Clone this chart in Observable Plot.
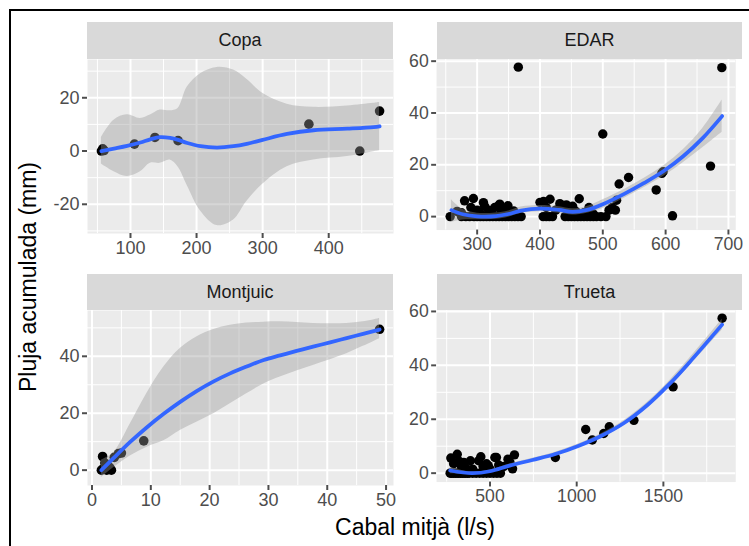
<!DOCTYPE html>
<html><head><meta charset="utf-8">
<script src="https://cdn.jsdelivr.net/npm/d3@7"></script>
<script src="https://cdn.jsdelivr.net/npm/@observablehq/plot@0.6"></script>
<style>
html,body{margin:0;padding:0;background:#fff;overflow:hidden;}
#root{position:relative;width:749px;height:546px;overflow:hidden;font-family:"Liberation Sans",Arial,sans-serif;background:#fff;}
.border{position:absolute;left:9px;top:9px;width:800px;height:600px;border:2px solid #000;box-sizing:border-box;}
.strip{position:absolute;background:#D9D9D9;color:#1A1A1A;font-size:18px;display:flex;align-items:center;justify-content:center;}
.panel{position:absolute;}
.panel svg{overflow:visible;}
#titles{position:absolute;left:0;top:0;}
</style></head>
<body><div id="root"><div class="border"></div></div>
<script>
// ---------------- DATA ----------------
const facets = ["Copa", "EDAR", "Montjuic", "Trueta"];

// Copa
const copaX = [56, 58, 60, 106, 137, 172, 370, 447, 477];
const copaY = [0, 0.8, 0.2, 2.6, 5.1, 3.9, 10.1, 0, 15];
const copaFitX = [56, 75, 95, 115, 130, 145, 160, 172, 186, 206, 231, 256, 276, 300, 337, 377, 428, 468, 477];
const copaFit = [0, 0.9, 1.9, 3.2, 4.4, 5.2, 4.9, 4.2, 3.0, 1.8, 1.3, 1.8, 2.7, 4.2, 6.4, 7.8, 8.4, 9.0, 9.3];
const copaHi = [5.1, 11.6, 13.6, 12.2, 13.5, 15.4, 15.1, 16, 24, 29, 31.4, 30.4, 27, 21.7, 17.6, 16.4, 16.9, 17.9, 18.2];
const copaLo = [-4.9, -7.8, -9.6, -7.8, -4.6, -4.6, -3.4, -6.0, -13, -22.5, -28, -25.9, -19, -12.5, -5.9, -3.4, -2.1, -0.25, 0.1];
const copaXTicks = [100, 200, 300, 400], copaXMinor = [50, 150, 250, 350, 450];
const copaYTicks = [-20, 0, 20], copaYMinor = [-30, -10, 10, 30];

// EDAR
const edarX = [257, 268, 275, 275, 280, 282, 288, 290, 294, 295, 296, 300, 300, 305, 305, 310, 310, 312, 315, 318, 320, 322, 325, 328, 330, 334, 335, 336, 338, 340, 343, 345, 349, 350, 352, 355, 358, 360, 365, 365.5, 370,
  400, 405, 405.7, 410, 410, 415, 416, 420, 425, 431.6, 437, 440, 442, 445, 448, 450, 452, 455, 457, 460, 462.5, 465, 470, 470, 475, 478, 480, 485, 485, 490, 497, 500, 505, 510, 515, 520, 522, 526, 541, 585, 594, 596, 611, 671.5, 689.5];
const edarY = [0, 2.0, 1.5, 0, 6.1, 0, 0, 3.5, 7.0, 0, 1, 2.5, 0, 1.2, 0, 5.4, 0, 4, 0, 2.5, 0, 1.5, 0, 3.5, 0, 4.2, 0, 4.8, 2.5, 0, 3, 0, 4.2, 0, 1.8, 0, 2.2, 0, 0, 57.7, 0,
  5.5, 0, 5.8, 3.5, 0, 0, 6.7, 0, 2.5, 5, 3.5, 0, 4.5, 0, 3, 0, 4, 0, 2, 0, 6.9, 0, 1.5, 0, 0, 3.5, 0, 1, 0, 0, 0, 31.9, 0, 2.5, 3.5, 2.5, 6.3, 12.6, 15.1, 10.3, 16.7, 17.3, 0.3, 19.5, 57.5];
const edarFitX = [259, 277, 300, 330, 350, 370, 400, 430, 452, 475, 500, 535, 566, 597, 628, 659, 690];
const edarFit = [2.5, 0.9, 0.1, 0.2, 1.0, 2.3, 3.1, 2.6, 1.8, 2.6, 4.8, 8.9, 13.0, 17.6, 23.3, 30.3, 38.8];
const edarHi = [6.5, 2.8, 1.3, 1.4, 2.2, 3.7, 4.3, 3.8, 3.0, 3.9, 6.5, 10.6, 14.8, 19.6, 25.8, 34.0, 45];
const edarLo = [-2.2, -1.3, -1.2, -1.0, -0.2, 1.2, 1.9, 1.3, 0.6, 1.3, 3.1, 7.2, 11.2, 15.6, 20.8, 26.6, 32.6];
const edarXTicks = [300, 400, 500, 600, 700], edarXMinor = [250, 350, 450, 550, 650];
const edarYTicks = [0, 20, 40, 60], edarYMinor = [10, 30, 50];

// Montjuic
const montX = [1.6, 1.8, 2.0, 2.2, 2.5, 3.0, 3.3, 3.8, 4.5, 5.0, 8.8, 48.9];
const montY = [0, 4.8, 0.5, 2.5, 0, 1, 0, 4.5, 5.8, 6, 10.3, 49.5];
const montFitX = [1.6, 3.7, 6.5, 9.3, 12.2, 15, 17.8, 20.7, 23.5, 26.3, 29.2, 32, 34.8, 37.6, 40.5, 43.3, 46.1, 48.9];
const montFit = [0, 4.3, 9.9, 15.0, 19.8, 24.0, 27.8, 31.2, 34.0, 36.4, 38.7, 40.3, 41.9, 43.4, 44.9, 46.4, 47.9, 49.4];
const montHi = [3.5, 6.2, 16.2, 26.8, 36.2, 42.7, 46.8, 49.4, 50.9, 51.7, 52, 52.1, 51.9, 51.5, 51.4, 51.5, 52.1, 53.3];
const montLo = [-2.6, 0.9, 5, 8, 10.3, 13.9, 16.8, 19.8, 23.3, 26.8, 30.3, 32.7, 34.8, 36.8, 38.8, 40.9, 43.5, 46.2];
const montXTicks = [0, 10, 20, 30, 40, 50], montXMinor = [5, 15, 25, 35, 45];
const montYTicks = [0, 20, 40], montYMinor = [10, 30, 50];

// Trueta
const truX = [270, 274, 280, 290, 290, 300, 310, 311, 320, 320, 330, 335, 340, 349, 350, 360, 360, 370, 380, 387, 400, 400, 420, 434, 440, 447, 460, 460, 480, 480, 490, 500, 500, 520, 528, 537, 540, 550, 560, 580, 603.6, 615, 630, 641, 877, 1052, 1090, 1156, 1188, 1330, 1556, 1839];
const truY = [0, 5.6, 0, 3.5, 0, 0, 0, 7, 4.5, 0, 0, 2.5, 0, 4, 0, 2, 0, 0, 0, 4.6, 1.5, 0, 0, 4.6, 0, 6.1, 2.5, 0, 3.5, 0, 2.8, 1.5, 0, 0, 5.8, 5.8, 0, 3, 0, 2.5, 5.2, 4, 1.6, 6.8, 5.8, 16.2, 12.3, 14.7, 17.2, 19.6, 32, 57.5];
const truFitX = [270, 396, 500, 613, 745, 877, 1009, 1141, 1273, 1405, 1537, 1650, 1839];
const truFit = [1.0, 0, 0.7, 2.8, 4.9, 7.1, 10.1, 13.8, 18.6, 25.1, 33.2, 41.1, 55.1];
const truHi = [2.2, 0.4, 1.2, 3.4, 5.5, 7.8, 10.8, 14.6, 19.5, 26.1, 34.4, 42.5, 57.1];
const truLo = [-0.2, -0.4, 0.2, 2.2, 4.3, 6.4, 9.4, 13.0, 17.7, 24.1, 32.0, 39.7, 53.1];
const truXTicks = [500, 1000, 1500], truXMinor = [250, 750, 1250, 1750];
const truYTicks = [0, 20, 40, 60], truYMinor = [10, 30, 50];

const xTitle = "Cabal mitjà (l/s)";
const yTitle = "Pluja acumulada (mm)";

// ---------------- LAYOUT ----------------
const root = document.getElementById("root");
const FONT = '"Liberation Sans", Arial, sans-serif';
const ML = 50, MR = 14, MT = 6, MB = 36;

function panel(name, px, py, bx, fit, lo, hi, xT, xM, yT, yM, left, top, w, h, stripTop) {
  const xs = px.concat(bx), ys = py.concat(fit, lo, hi);
  const [x0, x1] = d3.extent(xs), [y0, y1] = d3.extent(ys);
  const ex = (x1 - x0) * 0.05, ey = (y1 - y0) * 0.05;
  const pts = px.map((x, i) => ({x, y: py[i]}));
  const band = bx.map((x, i) => ({x, fit: fit[i], lo: lo[i], hi: hi[i]}));
  const fmt = d => String(d);
  const svg = Plot.plot({
    width: w + ML + MR, height: h + MT + MB,
    marginLeft: ML, marginRight: MR, marginTop: MT, marginBottom: MB,
    x: {domain: [x0 - ex, x1 + ex], label: null},
    y: {domain: [y0 - ey, y1 + ey], label: null},
    style: {fontFamily: FONT, fontSize: "18px", background: "transparent", overflow: "visible"},
    marks: [
      Plot.frame({fill: "#EBEBEB", stroke: "none"}),
      Plot.gridX(xM, {stroke: "#fff", strokeOpacity: 1, strokeWidth: 1}),
      Plot.gridY(yM, {stroke: "#fff", strokeOpacity: 1, strokeWidth: 1}),
      Plot.gridX(xT, {stroke: "#fff", strokeOpacity: 1, strokeWidth: 2}),
      Plot.gridY(yT, {stroke: "#fff", strokeOpacity: 1, strokeWidth: 2}),
      Plot.dot(pts, {x: "x", y: "y", r: 4.8, fill: "#000", stroke: "none"}),
      Plot.areaY(band, {x: "x", y1: "lo", y2: "hi", fill: "#999999", fillOpacity: 0.4, curve: "catmull-rom"}),
      Plot.line(band, {x: "x", y: "fit", stroke: "#3366FF", strokeWidth: 3.8, curve: "catmull-rom"}),
      Plot.axisX(xT, {tickSize: 5, tickPadding: 3, color: "#4D4D4D", strokeWidth: 2, fontSize: 18, tickFormat: fmt, label: null}),
      Plot.axisY(yT, {tickSize: 5, tickPadding: 3, color: "#4D4D4D", strokeWidth: 2, fontSize: 18, tickFormat: fmt, label: null})
    ]
  });
  const holder = document.createElement("div");
  holder.className = "panel";
  holder.style.left = (left - ML) + "px";
  holder.style.top = (top - MT) + "px";
  holder.appendChild(svg);
  root.appendChild(holder);
  const strip = document.createElement("div");
  strip.className = "strip";
  strip.style.left = left + "px"; strip.style.top = stripTop + "px";
  strip.style.width = w + "px"; strip.style.height = (top - stripTop) + "px";
  strip.textContent = name;
  root.appendChild(strip);
}

panel(facets[0], copaX, copaY, copaFitX, copaFit, copaLo, copaHi, copaXTicks, copaXMinor, copaYTicks, copaYMinor, 87, 59, 306, 174, 22);
panel(facets[1], edarX, edarY, edarFitX, edarFit, edarLo, edarHi, edarXTicks, edarXMinor, edarYTicks, edarYMinor, 437, 59, 305, 174, 22);
panel(facets[2], montX, montY, montFitX, montFit, montLo, montHi, montXTicks, montXMinor, montYTicks, montYMinor, 87, 310, 306, 175, 274);
panel(facets[3], truX, truY, truFitX, truFit, truLo, truHi, truXTicks, truXMinor, truYTicks, truYMinor, 437, 310, 305, 175, 274);

// titles
const ns = "http://www.w3.org/2000/svg";
const t = document.createElementNS(ns, "svg");
t.setAttribute("id", "titles"); t.setAttribute("width", 749); t.setAttribute("height", 546);
t.style.fontFamily = FONT;
const xt = document.createElementNS(ns, "text");
xt.setAttribute("x", 415); xt.setAttribute("y", 535); xt.setAttribute("text-anchor", "middle");
xt.setAttribute("font-size", "23"); xt.setAttribute("fill", "#000"); xt.textContent = xTitle;
const yt = document.createElementNS(ns, "text");
yt.setAttribute("transform", "translate(36,277) rotate(-90)"); yt.setAttribute("text-anchor", "middle");
yt.setAttribute("font-size", "23"); yt.setAttribute("fill", "#000"); yt.textContent = yTitle;
t.appendChild(xt); t.appendChild(yt);
root.appendChild(t);
</script>
</body></html>
